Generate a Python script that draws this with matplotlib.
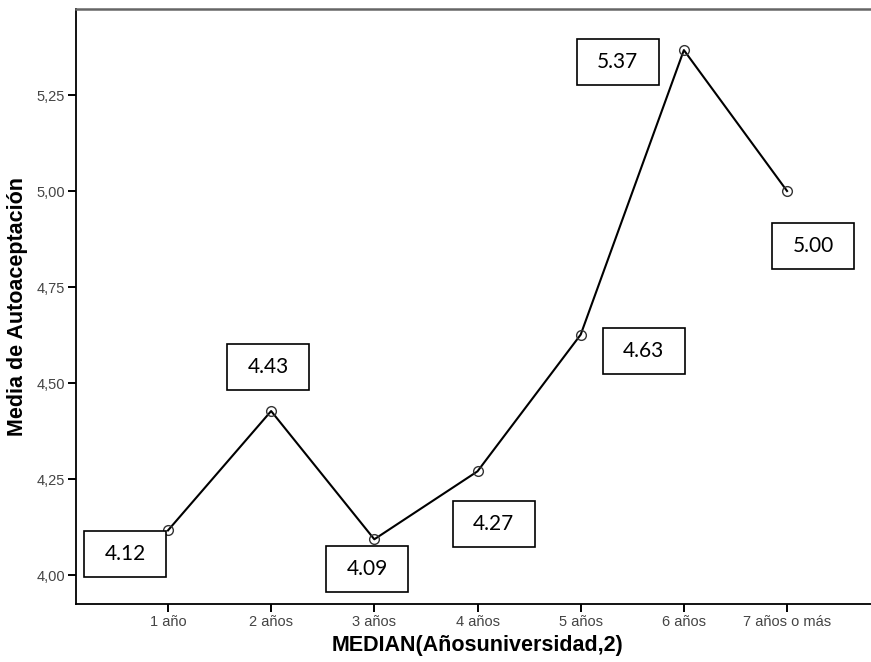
import matplotlib
matplotlib.use("Agg")
import matplotlib.pyplot as plt
from matplotlib.patches import Rectangle
from matplotlib.transforms import Affine2D, ScaledTranslation

categories = ["1 año", "2 años", "3 años", "4 años", "5 años", "6 años", "7 años o más"]
means = [4.116, 4.427, 4.093, 4.270, 4.626, 5.367, 5.000]
yticks = [4.00, 4.25, 4.50, 4.75, 5.00, 5.25]
ytick_labels = ["4,00", "4,25", "4,50", "4,75", "5,00", "5,25"]

# label box offsets from each point, in pixels (x right, y up)
box_dx = [-43, -3, -7, 16, 63, -66, 26]
box_dy = [-24, 44, -30, -53, -16, -12, -55]
BOX_W, BOX_H = 82, 46

narrow = ["Liberation Sans Narrow", "Liberation Sans", "DejaVu Sans"]
label_font = ["Lato", "DejaVu Sans"]

fig = plt.figure(figsize=(8.71, 6.62), dpi=100)
ax = fig.add_axes([76 / 871, 58 / 662, 803 / 871, 595 / 662])

x = list(range(1, len(categories) + 1))
ax.plot(x, means, color="black", lw=1.5, marker="o", ms=7, mfc="none",
        mec="#333333", mew=1.0, zorder=3)

ax.set_xlim(0.109, 7.891)
ax.set_ylim(3.9245, 5.474)
ax.set_xticks(x)
ax.set_xticklabels(categories, family=narrow, fontsize=10.5, color="#444444")
ax.set_yticks(yticks)
ax.set_yticklabels(ytick_labels, family=narrow, fontsize=10.5, color="#444444")
ax.tick_params(axis="both", direction="out", length=6, width=1.4, color="black", pad=2)

for s in ["left", "bottom"]:
    ax.spines[s].set_color("black")
    ax.spines[s].set_linewidth(1.3)
ax.spines["top"].set_color("#666666")
ax.spines["top"].set_linewidth(1.8)
ax.spines["right"].set_visible(False)

ax.set_xlabel("MEDIAN(Añosuniversidad,2)", family=narrow, fontsize=15.5,
              fontweight="bold", labelpad=4)
ax.set_ylabel("Media de Autoaceptación", family=narrow, fontsize=15.5,
              fontweight="bold", labelpad=6)

for xi, yi, dx, dy in zip(x, means, box_dx, box_dy):
    tr = Affine2D().translate(dx, dy) + ScaledTranslation(xi, yi, ax.transData)
    rect = Rectangle((-BOX_W / 2, -BOX_H / 2), BOX_W, BOX_H, transform=tr,
                     facecolor="white", edgecolor="black", lw=1.2, zorder=4,
                     clip_on=False)
    ax.add_artist(rect)
    ax.annotate(f"{yi:.2f}", xy=(xi, yi), xytext=(dx, dy), textcoords="offset pixels",
                ha="center", va="center", fontsize=15, family=label_font,
                color="black", zorder=5)

fig.savefig("out.png", dpi=100, facecolor="white")
